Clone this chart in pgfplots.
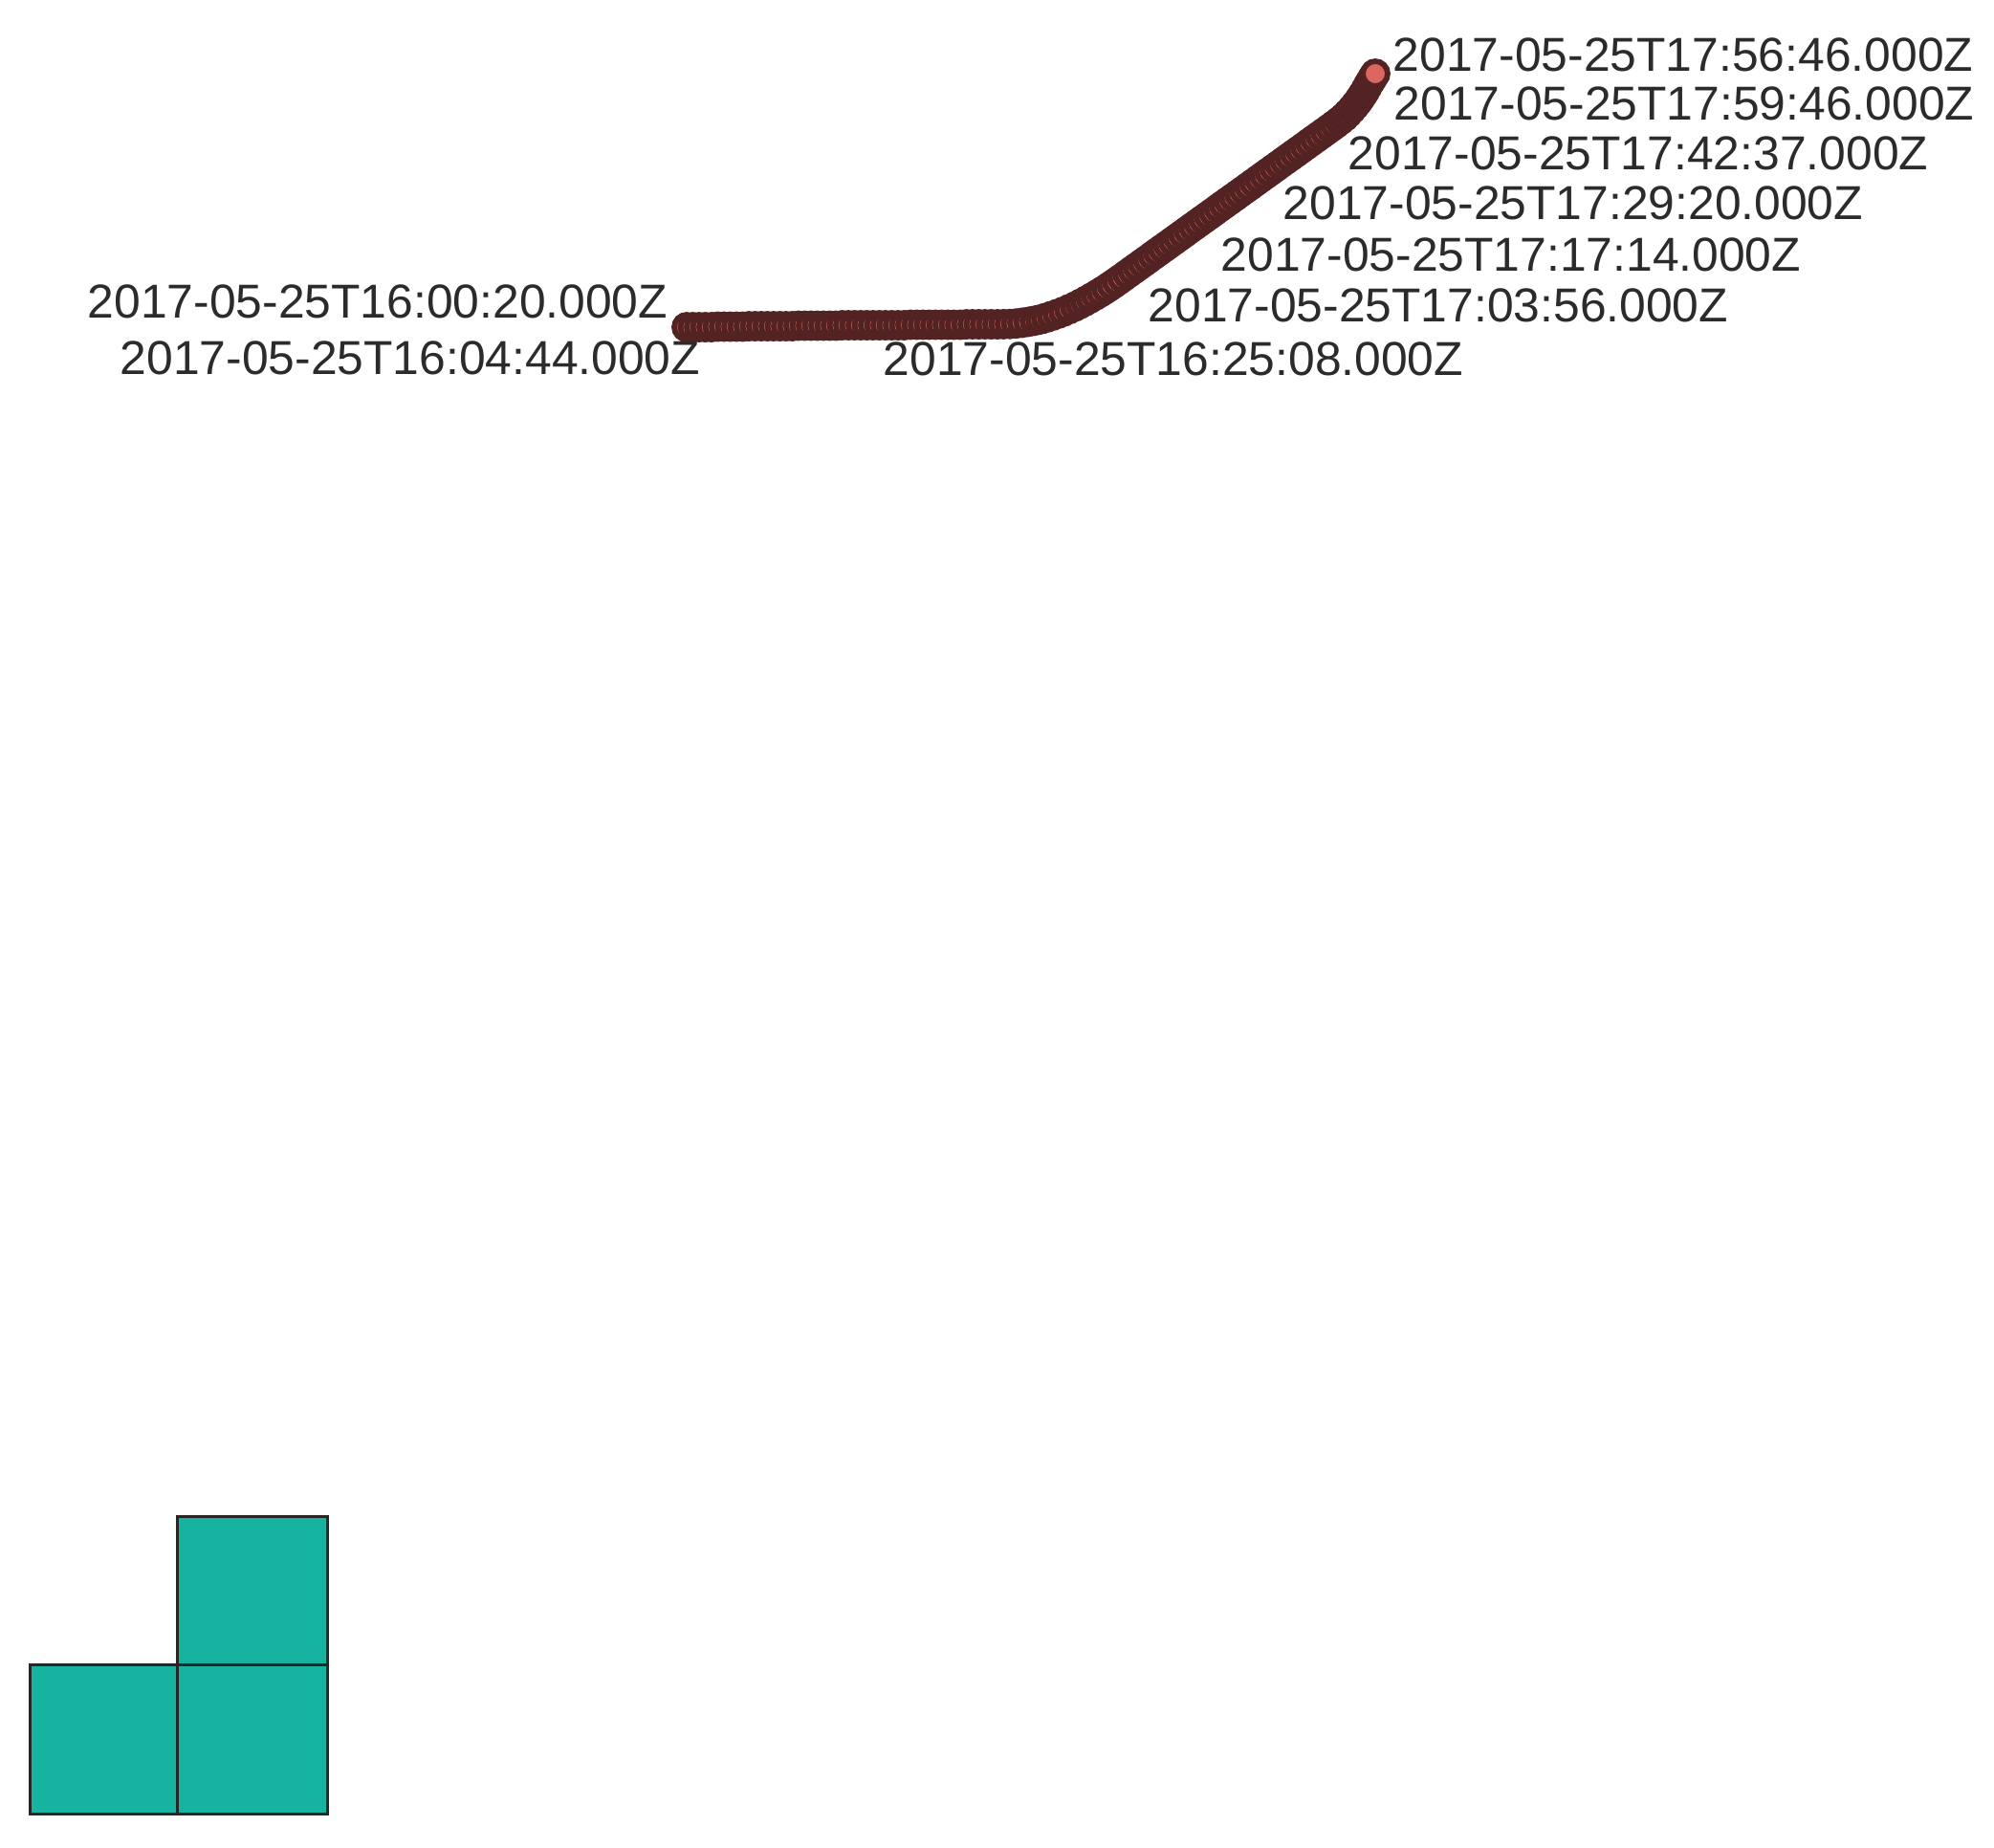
\documentclass[border=0pt]{standalone}
\usepackage{fontspec}
\setmainfont{Liberation Sans}
\usepackage{pgfplots}
\pgfplotsset{compat=1.18}
\definecolor{trackfill}{HTML}{DC6660}
\definecolor{trackdraw}{HTML}{532222}
\definecolor{tealsq}{HTML}{17B3A1}
\definecolor{txt}{HTML}{2B2B2B}
\begin{document}
\begin{tikzpicture}
\begin{axis}[
  width=521.25pt, height=482.75pt, scale only axis,
  xmin=0, xmax=2085, ymin=0, ymax=1931, y dir=reverse,
  hide axis, clip=false,
]
\path (rel axis cs:0,0) rectangle (rel axis cs:1,1);
% logo squares
\addplot[fill=tealsq, draw=black!85, line width=0.75pt] coordinates {(31,1740) (185,1740) (185,1896) (31,1896)} --cycle;
\addplot[fill=tealsq, draw=black!85, line width=0.75pt] coordinates {(185,1740) (342,1740) (342,1896) (185,1896)} --cycle;
\addplot[fill=tealsq, draw=black!85, line width=0.75pt] coordinates {(185,1585) (342,1585) (342,1740) (185,1740)} --cycle;
% track
\addplot[only marks, mark=*, mark size=3.25pt,
  mark options={fill=trackfill, draw=trackdraw, line width=1.45pt}] coordinates {
(718,342) (724.5,342) (731,342) (737.5,342) (744,342) (750.5,341.5) (757,341.5) (763.5,341.5) (770,341.5) (776.5,341.5)
(783,341) (789.5,341) (796,341) (802.5,341) (809,341) (815.5,341) (822,341) (828.5,341) (835,340.5) (841.5,340.5)
(848,340.5) (854.5,340.5) (861,340.5) (867.5,340.5) (874,340.5) (880.5,340) (887,340) (893.5,340) (900,340) (906.5,340)
(913,340) (919.5,340) (926,340) (932.5,340) (939,340) (945.5,340) (952,339.5) (958.5,339.5) (965,339.5) (971.5,339.5)
(978,339.5) (984.5,339.5) (991,339.5) (997.5,339.5) (1004,339.5) (1010.5,339) (1017,339) (1023.5,339) (1030,339) (1036.5,339)
(1043,339) (1049.5,338.9) (1056,338.7) (1062.5,338.2) (1069,337.4) (1075.5,336.4) (1082,335.2) (1088,333.9) (1094,332.2) (1100,330.2)
(1106,328.1) (1112,325.8) (1118,323.2) (1124,320.5) (1129.5,317.7) (1135,314.8) (1140.5,311.7) (1146,308.5) (1151.5,305.2) (1157,301.7)
(1162.5,298.0) (1168,294.2) (1173.5,290.3) (1179,286.3) (1184.3,282.5) (1189.6,278.7) (1194.9,274.9) (1200.2,271.1) (1205.5,267.2) (1210.8,263.4)
(1216.1,259.6) (1221.4,255.8) (1226.7,252.0) (1232,248.2) (1237.3,244.4) (1242.6,240.5) (1247.9,236.7) (1253.2,232.9) (1258.5,229.1) (1263.8,225.3)
(1269.1,221.5) (1274.4,217.6) (1279.7,213.8) (1285,210.0) (1290.3,206.2) (1295.6,202.4) (1300.9,198.6) (1306.2,194.8) (1311.5,190.9) (1316.8,187.1)
(1322.1,183.3) (1327.4,179.5) (1332.7,175.7) (1338,171.8) (1343.3,168.0) (1348.6,164.2) (1353.9,160.4) (1359.2,156.6) (1364.5,152.8) (1369.8,148.9)
(1375.1,145.1) (1380.4,141.3) (1385.7,137.5) (1391,133.7) (1396,130) (1401,126.2) (1405.5,122.5) (1409.5,118.5) (1413.5,114.2) (1417,110)
(1420.5,105.5) (1423.5,101) (1426.5,96.5) (1429,92) (1431.5,87.5) (1434,83.5) (1436,80) (1438,77)
};
% labels
\begin{scope}[every node/.style={inner sep=0pt, text=txt, font=\fontsize{12.45}{14}\selectfont}]
\node at (axis cs:1760,57) {2017-05-25T17:56:46.000Z};
\node at (axis cs:1761,108) {2017-05-25T17:59:46.000Z};
\node at (axis cs:1713,160) {2017-05-25T17:42:37.000Z};
\node at (axis cs:1645,212) {2017-05-25T17:29:20.000Z};
\node at (axis cs:1580,266) {2017-05-25T17:17:14.000Z};
\node at (axis cs:1504,319) {2017-05-25T17:03:56.000Z};
\node at (axis cs:1227,375) {2017-05-25T16:25:08.000Z};
\node at (axis cs:395,315) {2017-05-25T16:00:20.000Z};
\node at (axis cs:429,374) {2017-05-25T16:04:44.000Z};
\end{scope}
\end{axis}
\end{tikzpicture}
\end{document}
